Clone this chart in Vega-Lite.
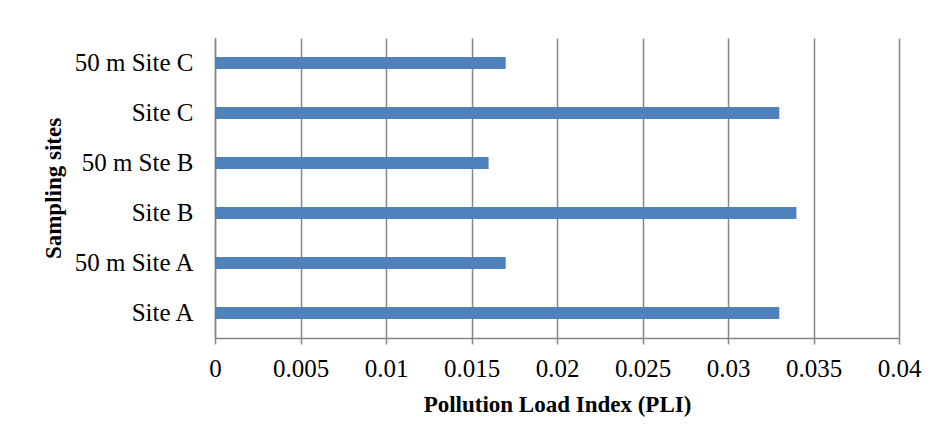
{
  "$schema": "https://vega.github.io/schema/vega-lite/v6.json",
  "width": 684,
  "height": 300,
  "autosize": {"type": "none"},
  "padding": {"left": 215, "top": 38, "right": 38, "bottom": 104},
  "background": "white",
  "config": {
    "font": "Liberation Serif",
    "view": {"stroke": null},
    "axis": {
      "labelColor": "black",
      "titleColor": "black",
      "labelFont": "Liberation Serif",
      "titleFont": "Liberation Serif",
      "labelFontSize": 25,
      "titleFontSize": 23,
      "titleFontWeight": "bold",
      "domainColor": "#868686",
      "domainWidth": 1.5,
      "tickColor": "#868686",
      "tickWidth": 1.5,
      "gridColor": "#868686",
      "gridWidth": 1.5,
      "gridOpacity": 1
    }
  },
  "data": {
    "values": [
      {"site": "50 m Site C", "pli": 0.017},
      {"site": "Site C", "pli": 0.033},
      {"site": "50 m Ste B", "pli": 0.016},
      {"site": "Site B", "pli": 0.034},
      {"site": "50 m Site A", "pli": 0.017},
      {"site": "Site A", "pli": 0.033}
    ]
  },
  "mark": {"type": "bar", "color": "#4F81BD", "size": 12},
  "encoding": {
    "y": {
      "field": "site",
      "type": "nominal",
      "sort": null,
      "title": "Sampling sites",
      "axis": {
        "ticks": false,
        "labelPadding": 22,
        "titleX": -162,
        "titleY": 150,
        "titleBaseline": "middle",
        "titleAlign": "center"
      }
    },
    "x": {
      "field": "pli",
      "type": "quantitative",
      "scale": {"domain": [0, 0.04], "nice": false},
      "title": "Pollution Load Index (PLI)",
      "axis": {
        "values": [0, 0.005, 0.01, 0.015, 0.02, 0.025, 0.03, 0.035, 0.04],
        "format": "~g",
        "tickSize": 6,
        "labelPadding": 12,
        "labelFlush": false,
        "titleY": 66,
        "titleBaseline": "middle"
      }
    }
  }
}
